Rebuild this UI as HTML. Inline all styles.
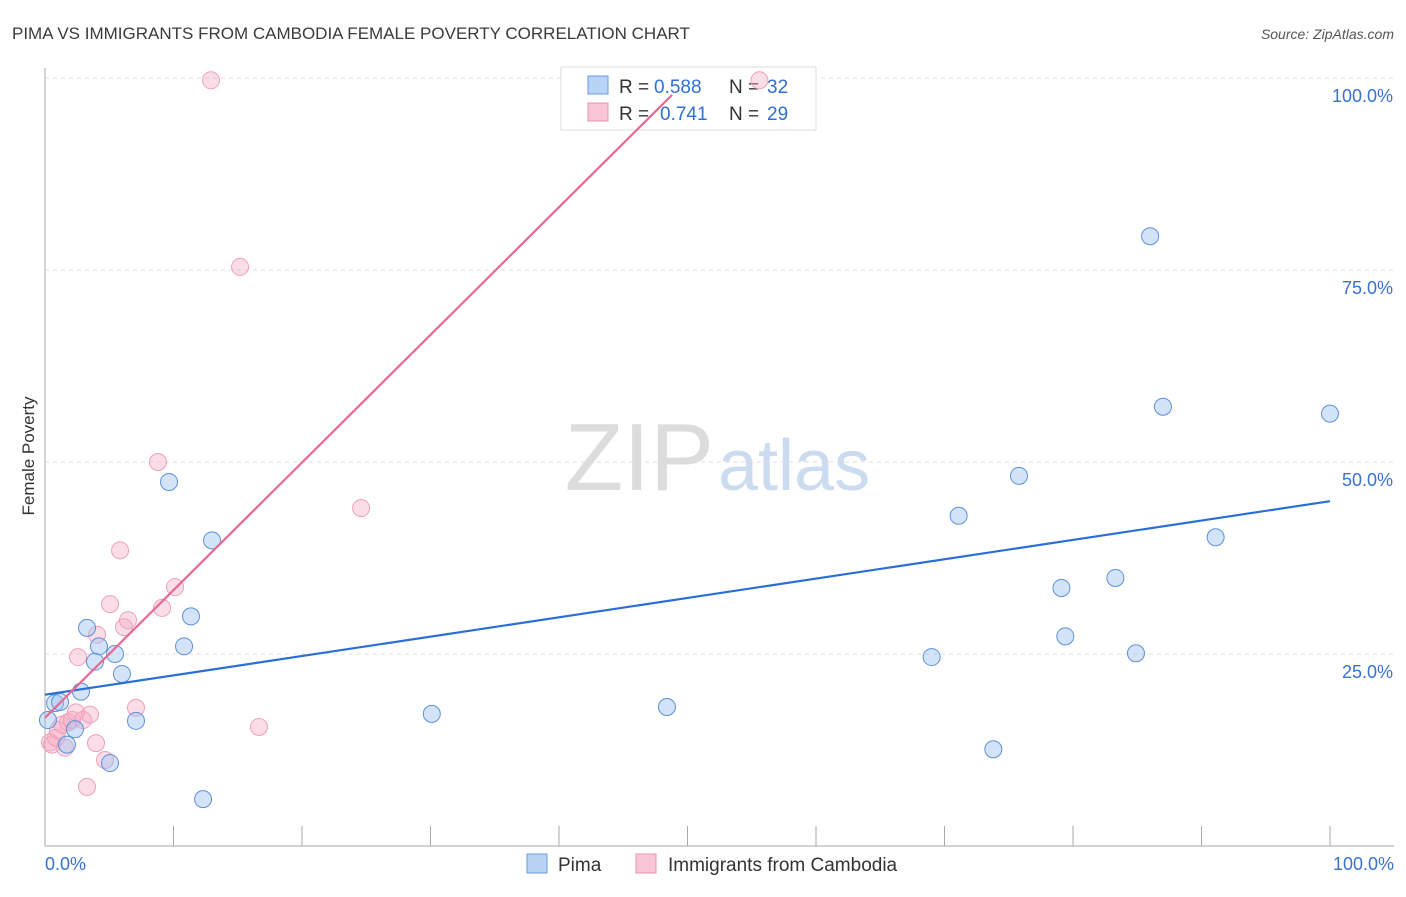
<!DOCTYPE html>
<html><head><meta charset="utf-8"><style>
body{margin:0;background:#fff;font-family:"Liberation Sans",sans-serif}
svg text{font-family:"Liberation Sans",sans-serif}
</style></head><body>
<svg id="chart" width="1406" height="892">
<text x="12" y="39" font-size="17" fill="#3a3a3a">PIMA VS IMMIGRANTS FROM CAMBODIA FEMALE POVERTY CORRELATION CHART</text>
<text x="1394" y="39" font-size="14" fill="#555" text-anchor="end" font-style="italic">Source: ZipAtlas.com</text>
<text x="34" y="456" font-size="17" fill="#333" transform="rotate(-90 34 456)" text-anchor="middle">Female Poverty</text>
<text x="714" y="490" font-size="96" fill="#dcdcdc" text-anchor="end" font-family="Liberation Serif">ZIP</text>
<text x="718" y="490" font-size="72" fill="#ccdcf0">atlas</text>
<g id="grid"></g>
<g>
<rect x="561" y="67" width="255" height="63" fill="#fff" stroke="#ddd"/>
<rect x="588" y="76" width="20" height="18" fill="#b8d3f4" stroke="#6a9be0"/>
<rect x="588" y="103" width="20" height="18" fill="#f8c6d6" stroke="#e894b2"/>
<text x="619" y="93" font-size="19" fill="#333">R =</text>
<text x="654" y="93" font-size="19" fill="#2f6fd6">0.588</text>
<text x="729" y="93" font-size="19" fill="#333">N =</text>
<text x="767" y="93" font-size="19" fill="#2f6fd6">32</text>
<text x="619" y="120" font-size="19" fill="#333">R =</text>
<text x="660" y="120" font-size="19" fill="#2f6fd6">0.741</text>
<text x="729" y="120" font-size="19" fill="#333">N =</text>
<text x="767" y="120" font-size="19" fill="#2f6fd6">29</text>
</g>
<g id="pts"></g><g id="lines"></g>
<g>
<rect x="527" y="854" width="20" height="19" fill="#b8d3f4" stroke="#6a9be0"/>
<text x="558" y="871" font-size="19" fill="#333">Pima</text>
<rect x="636" y="854" width="20" height="19" fill="#f8c6d6" stroke="#e894b2"/>
<text x="668" y="871" font-size="19" fill="#333">Immigrants from Cambodia</text>
</g>
</svg>
<script>
const pimaX=[0.78,1.17,1.71,2.33,2.80,3.27,3.89,4.20,5.45,5.99,5.06,7.08,9.65,10.82,11.36,12.30,13.0,30.1,48.4,69.0,71.1,73.8,75.8,79.1,79.4,83.3,84.9,86.0,87.0,91.1,100,0.23];
const pimaY=[18.6,18.75,13.2,15.2,20.1,28.4,24.0,26.0,25.0,22.4,10.8,16.3,47.4,26.0,29.9,6.1,39.8,17.2,18.1,24.6,43.0,12.6,48.2,33.6,27.3,34.9,25.1,79.4,57.2,40.2,56.3,16.4];
const camX=[0.39,0.54,0.86,1.01,1.32,1.56,1.79,2.10,2.41,2.57,2.96,3.27,3.50,3.97,4.05,4.67,5.06,5.84,6.15,6.46,7.08,8.79,9.11,10.12,12.92,15.18,16.65,24.6,55.6];
const camY=[13.5,13.2,14.1,15.1,15.8,12.8,16.1,16.4,17.4,24.6,16.4,7.7,17.1,13.4,27.5,11.2,31.5,38.5,28.5,29.4,18.0,50.0,31.0,33.7,99.7,75.4,15.5,44.0,99.7];
const yTicks=[25,50,75,100];
const yTickLabels=["25.0%","50.0%","75.0%","100.0%"];
const pimaLine=[19.7,44.9];
const camLine=[16.7,97.8,48.8];
const sx=v=>45+v*12.85, sy=v=>846-v*7.68;
const NS="http://www.w3.org/2000/svg";
function mk(t,a,p){const e=document.createElementNS(NS,t);for(const k in a)e.setAttribute(k,a[k]);p.appendChild(e);return e;}
const g=document.getElementById('grid');
yTicks.forEach((t,i)=>{
 const l=mk('line',{x1:45,x2:1394,y1:sy(t),y2:sy(t),stroke:'#ddd','stroke-dasharray':'4,4'},g);
 
 
 const tx=mk('text',{x:1393,y:sy(t)+24,'font-size':18,fill:'#3a72d0','text-anchor':'end'},g);
 tx.textContent=yTickLabels[i];
 
 
});
const ax=mk('line',{x1:45,x2:45,y1:68,y2:846,stroke:'#aaa'},g);


const bx=mk('line',{x1:45,x2:1394,y1:846,y2:846,stroke:'#aaa'},g);


for(let i=1;i<=10;i++){const t=mk('line',{x1:sx(i*10),x2:sx(i*10),y1:826,y2:846,stroke:'#aaa'},g);
 
 }
const xl=mk('text',{x:45,y:870,'font-size':18,fill:'#3a72d0'},g);xl.textContent='0.0%';


const xr=mk('text',{x:1394,y:870,'font-size':18,fill:'#3a72d0','text-anchor':'end'},g);xr.textContent='100.0%';


const p=document.getElementById('pts');
camX.forEach((x,i)=>{const c=mk('circle',{cx:sx(x),cy:sy(camY[i]),r:8.5,fill:'rgba(245,170,195,0.4)',stroke:'#eea0bb','stroke-width':1},p);
 
 });
pimaX.forEach((x,i)=>{const c=mk('circle',{cx:sx(x),cy:sy(pimaY[i]),r:8.5,fill:'rgba(160,195,240,0.45)',stroke:'#5d90dc','stroke-width':1},p);
 
 });
const L=document.getElementById('lines');
const a=mk('line',{x1:sx(0),y1:sy(pimaLine[0]),x2:sx(100),y2:sy(pimaLine[1]),stroke:'#2a6fd6','stroke-width':2.2},L);


const b=mk('line',{x1:sx(0),y1:sy(camLine[0]),x2:sx(camLine[2]),y2:sy(camLine[1]),stroke:'#e86892','stroke-width':2.2},L);


</script>
</body></html>
